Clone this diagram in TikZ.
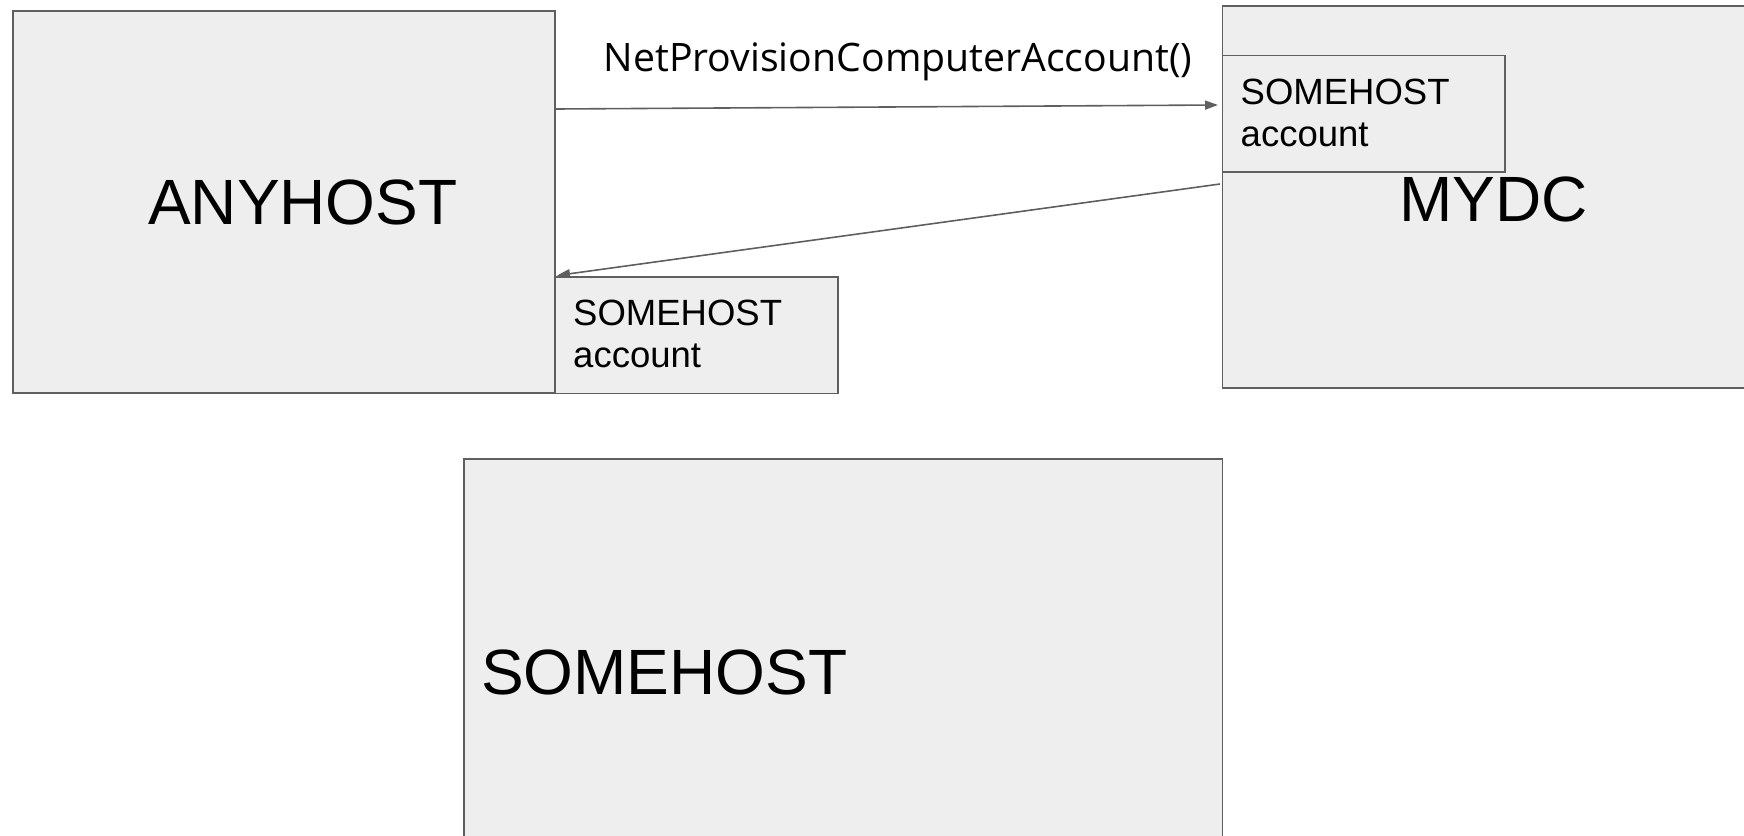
\documentclass[tikz,border=0pt]{standalone}
\usepackage{fontspec}
\setmainfont{Liberation Sans}
\newfontfamily\labelfont{Open Sans}
\usetikzlibrary{arrows.meta}
\definecolor{boxfill}{HTML}{EEEEEE}
\definecolor{edgegrey}{HTML}{5F5F5F}
\tikzset{
  box/.style={draw=edgegrey, fill=boxfill, line width=1.8pt, inner sep=0pt, anchor=north west},
  bigtext/.style={inner sep=0pt, anchor=base west, font=\fontsize{64}{74}\selectfont},
  smalltext/.style={inner sep=0pt, anchor=base west, font=\fontsize{36.5}{42}\selectfont},
  conn/.style={draw=edgegrey, line width=1.6pt, -{Triangle[length=13pt,width=9pt]}},
}
\begin{document}
\begin{tikzpicture}[x=1pt,y=-1pt]
\useasboundingbox (0,0) rectangle (1744,835);
% big boxes
\node[box, minimum width=542pt, minimum height=381.7pt] (anyhost) at (12,10) {};
\node[box, minimum width=540pt, minimum height=382pt] (mydc) at (1221.5,5) {};
\node[box, minimum width=758.5pt, minimum height=400pt] (somehost) at (463,458) {};
% labels of big boxes
\node[bigtext] (anyhostlbl) at (148,224.3) {ANYHOST};
\node[bigtext] (somehostlbl) at (481,694.3) {SOMEHOST};
% connectors
\coordinate (a1s) at (556,109);
\coordinate (a1e) at (1218,105);
\coordinate (a2s) at (1220,184);
\coordinate (a2e) at (557,275.5);
\draw[conn] (a1s) -- (a1e);
\draw[conn] (a2s) -- (a2e);
\node[inner sep=0pt, anchor=base, font=\labelfont\fontsize{39.2}{45}\selectfont] (calllbl) at (898,71.7) {NetProvisionComputerAccount()};
% account boxes
\node[box, minimum width=282.7pt, minimum height=116.5pt] (acct1) at (554,276) {};
\node[box, minimum width=282.8pt, minimum height=116.5pt] (acct2) at (1221.5,54.5) {};
\node[smalltext, align=left] (acct1lbl) at (573,367.7) {SOMEHOST\\account};
\node[smalltext, align=left] (acct2lbl) at (1240.5,146.2) {SOMEHOST\\account};
\node[bigtext] (mydclbl) at (1399,221) {MYDC};
\end{tikzpicture}
\end{document}
